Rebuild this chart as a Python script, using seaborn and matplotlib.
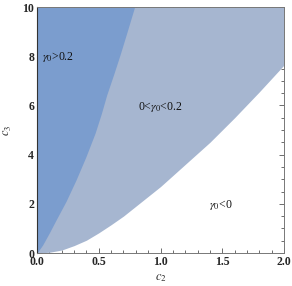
import matplotlib
matplotlib.use("Agg")
import matplotlib.pyplot as plt
from matplotlib.ticker import MultipleLocator
import seaborn as sns

# boundary gamma0 = 0.2 (c3 vs c2)
upper_c3 = [0.0, 0.33, 0.82, 1.34, 2.1, 2.97, 3.9, 4.87, 5.65, 6.42, 7.25, 8.05, 9.0, 10.0]
upper_c2 = [0.0, 0.046, 0.1, 0.154, 0.235, 0.316, 0.395, 0.47, 0.52, 0.564, 0.62, 0.672, 0.73, 0.79]

# boundary gamma0 = 0
lower_c2 = [0.0, 0.1, 0.2, 0.3, 0.4, 0.5, 0.6, 0.7, 0.8, 0.9, 1.0,
            1.2, 1.4, 1.6, 1.8, 2.0]
lower_c3 = [0.0, 0.03, 0.12, 0.3, 0.52, 0.82, 1.15, 1.5, 1.9, 2.3, 2.7,
            3.6, 4.5, 5.5, 6.55, 7.64]

x_ticks = [0.0, 0.5, 1.0, 1.5, 2.0]
x_ticklabels = ["0.0", "0.5", "1.0", "1.5", "2.0"]
y_ticks = [0, 2, 4, 6, 8, 10]
y_ticklabels = ["0", "2", "4", "6", "8", "10"]

region_labels = [r"$\gamma_0$>0.2", r"0<$\gamma_0$<0.2", r"$\gamma_0$<0"]
label_pos = [(0.04, 7.97), (1.0, 5.93), (1.49, 1.95)]
label_ha = ["left", "center", "center"]

dark = "#7b9dce"
light = "#a6b6d0"

sns.set_theme(style="ticks")
plt.rcParams["font.family"] = ["Liberation Serif", "DejaVu Serif"]
plt.rcParams["mathtext.fontset"] = "stix"

fig = plt.figure(figsize=(2.92, 2.86), dpi=100)
ax = fig.add_axes([37 / 292, 1 - 253 / 286, 247 / 292, 246 / 286])

ax.fill_between(lower_c2, lower_c3, 10, color=light, linewidth=0)
ax.fill_betweenx(upper_c3, 0, upper_c2, color=dark, linewidth=0)

for text, (x, y), ha in zip(region_labels, label_pos, label_ha):
    ax.text(x, y, text, ha=ha, va="center", fontsize=8.5, color="#111")

ax.set_xlim(0, 2)
ax.set_ylim(0, 10)
ax.set_xticks(x_ticks)
ax.set_xticklabels(x_ticklabels, fontweight="bold")
ax.set_yticks(y_ticks)
ax.set_yticklabels(y_ticklabels, fontweight="bold")
ax.xaxis.set_minor_locator(MultipleLocator(0.1))
ax.yaxis.set_minor_locator(MultipleLocator(0.5))
ax.tick_params(which="both", direction="in", top=True, right=True,
               color="#555", width=0.6)
ax.tick_params(which="major", length=3.5, labelsize=8.5, pad=2)
ax.tick_params(which="minor", length=2)

for side in ["top", "right", "bottom"]:
    ax.spines[side].set_color("#777")
    ax.spines[side].set_linewidth(0.7)
ax.spines["left"].set_color("#333")
ax.spines["left"].set_linewidth(0.8)

ax.set_xlabel(r"$c_2$", fontsize=9, labelpad=3)
ax.set_ylabel(r"$\tilde{c}_3$", fontsize=9, labelpad=6)

fig.savefig("out.png", dpi=100)
